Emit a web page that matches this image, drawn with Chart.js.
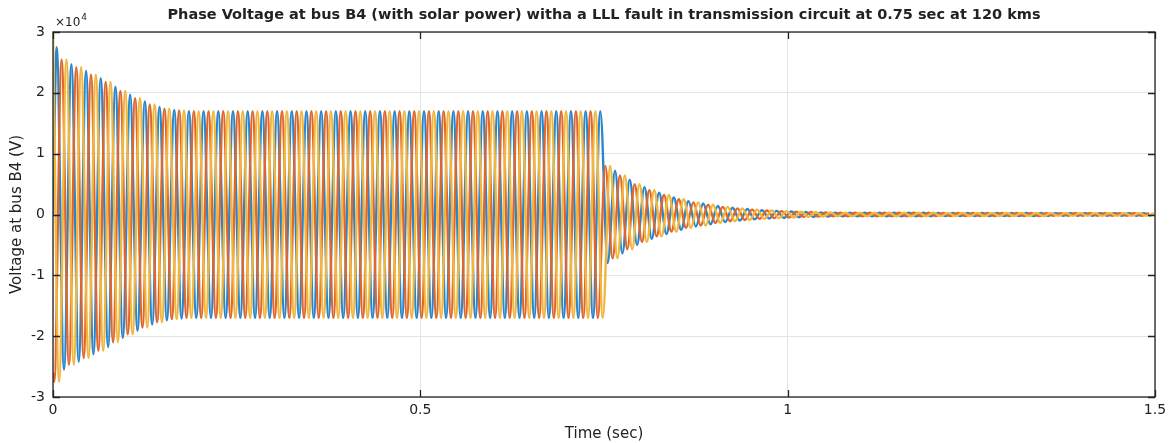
<!DOCTYPE html>
<html>
<head>
<meta charset="utf-8">
<script src="https://cdn.jsdelivr.net/npm/chart.js@4.4.1/dist/chart.umd.min.js"></script>
<style>
  html, body { margin: 0; padding: 0; background: #fff; }
  #wrap { width: 1174px; height: 443px; position: relative; }
</style>
</head>
<body>
<div id="wrap"><canvas id="chart"></canvas></div>
<script>
// ===== DATA (voltages in units of 1e4 V) =====
const TITLE = 'Phase Voltage at bus B4 (with solar power) witha a LLL fault in transmission circuit at 0.75 sec at 120 kms';
const X_TICKS = [0, 0.5, 1, 1.5];
const Y_TICKS = [-3, -2, -1, 0, 1, 2, 3];

const HALF_CYCLE = 0.01; // 50 Hz system, one extremum every half cycle

const phaseLabels = ['Phase A', 'Phase B', 'Phase C'];
const phaseColors = ['#2a86cc', '#e0672c', '#f1b63e'];
// time of each phase's first extremum, and whether it is a peak (+1) or trough (-1)
const phaseFirstExtremum = [0.005, 0.0017, 0.0083];
const phaseFirstSign = [1, -1, -1];
// value of each phase at t = 0
const phaseStartValue = [0.0, -2.6, 2.95];

// peak magnitude for each half cycle (0-0.01 s, 0.01-0.02 s, ... 1.49-1.50 s)
const envelope = [
  2.75, 2.55, 2.47, 2.42, 2.36, 2.30, 2.24, 2.18, 2.10, 2.03,
  1.97, 1.91, 1.86, 1.81, 1.77, 1.74, 1.72, 1.71, 1.70, 1.70,
  1.70, 1.70, 1.70, 1.70, 1.70, 1.70, 1.70, 1.70, 1.70, 1.70,
  1.70, 1.70, 1.70, 1.70, 1.70, 1.70, 1.70, 1.70, 1.70, 1.70,
  1.70, 1.70, 1.70, 1.70, 1.70, 1.70, 1.70, 1.70, 1.70, 1.70,
  1.70, 1.70, 1.70, 1.70, 1.70, 1.70, 1.70, 1.70, 1.70, 1.70,
  1.70, 1.70, 1.70, 1.70, 1.70, 1.70, 1.70, 1.70, 1.70, 1.70,
  1.70, 1.70, 1.70, 1.70, 1.70, 0.80, 0.72, 0.64, 0.57, 0.50,
  0.45, 0.40, 0.36, 0.32, 0.28, 0.25, 0.22, 0.20, 0.18, 0.16,
  0.14, 0.125, 0.11, 0.10, 0.09, 0.08, 0.07, 0.065, 0.06, 0.055,
  0.05, 0.045, 0.04, 0.04, 0.035, 0.035, 0.03, 0.03, 0.03, 0.03,
  0.03, 0.03, 0.03, 0.03, 0.03, 0.028, 0.028, 0.028, 0.028, 0.028,
  0.025, 0.025, 0.025, 0.025, 0.025, 0.025, 0.025, 0.025, 0.025, 0.025,
  0.025, 0.025, 0.025, 0.025, 0.025, 0.022, 0.022, 0.022, 0.022, 0.022,
  0.022, 0.022, 0.022, 0.022, 0.022, 0.022, 0.022, 0.022, 0.022, 0.022
];

// build the extremum points of one phase from the envelope
function phasePoints(p) {
  const pts = [{ x: 0, y: phaseStartValue[p] }];
  let sign = phaseFirstSign[p];
  for (let h = 0; h < envelope.length; h++) {
    const t = phaseFirstExtremum[p] + h * HALF_CYCLE;
    if (t > 1.5) break;
    const idx = Math.floor(t / HALF_CYCLE);
    pts.push({ x: t, y: sign * envelope[Math.min(idx, envelope.length - 1)] });
    sign = -sign;
  }
  return pts;
}

const FONT = "'DejaVu Sans', 'Liberation Sans', Arial, sans-serif";
const AXIS_COLOR = '#222222';

// MATLAB style box, inward ticks and exponent label
const matlabBox = {
  id: 'matlabBox',
  afterDraw(chart) {
    const { ctx, chartArea: a, scales } = chart;
    ctx.save();
    ctx.strokeStyle = AXIS_COLOR;
    ctx.lineWidth = 1.3;
    ctx.strokeRect(a.left, a.top, a.right - a.left, a.bottom - a.top);
    ctx.beginPath();
    X_TICKS.forEach(v => {
      const x = Math.round(scales.x.getPixelForValue(v)) + 0.5;
      ctx.moveTo(x, a.bottom); ctx.lineTo(x, a.bottom - 7);
      ctx.moveTo(x, a.top); ctx.lineTo(x, a.top + 7);
    });
    Y_TICKS.forEach(v => {
      const y = Math.round(scales.y.getPixelForValue(v)) + 0.5;
      ctx.moveTo(a.left, y); ctx.lineTo(a.left + 7, y);
      ctx.moveTo(a.right, y); ctx.lineTo(a.right - 7, y);
    });
    ctx.stroke();
    ctx.fillStyle = AXIS_COLOR;
    ctx.textBaseline = 'alphabetic';
    ctx.font = '12px ' + FONT;
    ctx.fillText('\u00d710', a.left + 2, a.top - 6);
    const w = ctx.measureText('\u00d710').width;
    ctx.font = '9px ' + FONT;
    ctx.fillText('4', a.left + 2 + w + 1, a.top - 12);
    ctx.restore();
  }
};

new Chart(document.getElementById('chart'), {
  type: 'line',
  data: {
    datasets: phaseLabels.map((label, p) => ({
      label,
      data: phasePoints(p),
      borderColor: phaseColors[p],
      borderWidth: 2.4,
      pointRadius: 0,
      cubicInterpolationMode: 'monotone',
      order: 2 - p
    }))
  },
  options: {
    responsive: true,
    maintainAspectRatio: false,
    animation: false,
    parsing: false,
    layout: { padding: { left: 0, right: 19, top: 0, bottom: 0 } },
    plugins: {
      legend: { display: false },
      tooltip: { enabled: false },
      title: {
        display: true,
        text: TITLE,
        fullSize: false,
        color: AXIS_COLOR,
        font: { family: FONT, size: 14.5, weight: 'bold', lineHeight: 1.2 },
        padding: { top: 7, bottom: 7.6 }
      }
    },
    scales: {
      x: {
        type: 'linear',
        min: 0, max: 1.5,
        afterBuildTicks: s => { s.ticks = X_TICKS.map(v => ({ value: v })); },
        afterFit: s => { s.height = 46; },
        grid: { color: '#e3e3e3', drawTicks: false },
        border: { display: false },
        ticks: {
          color: AXIS_COLOR, padding: 5, maxRotation: 0,
          font: { family: FONT, size: 14 },
          callback: v => String(v)
        },
        title: {
          display: true, text: 'Time (sec)', color: AXIS_COLOR,
          font: { family: FONT, size: 15 }, padding: { top: 1, bottom: 0 }
        }
      },
      y: {
        type: 'linear',
        min: -3, max: 3,
        afterBuildTicks: s => { s.ticks = Y_TICKS.map(v => ({ value: v })); },
        afterFit: s => { s.width = 53; },
        grid: { color: '#e3e3e3', drawTicks: false },
        border: { display: false },
        ticks: {
          color: AXIS_COLOR, padding: 8,
          font: { family: FONT, size: 14 },
          callback: v => String(v)
        },
        title: {
          display: true, text: 'Voltage at bus B4 (V)', color: AXIS_COLOR,
          font: { family: FONT, size: 15 }, padding: { top: 8, bottom: 0 }
        }
      }
    }
  },
  plugins: [matlabBox]
});
</script>
</body>
</html>
